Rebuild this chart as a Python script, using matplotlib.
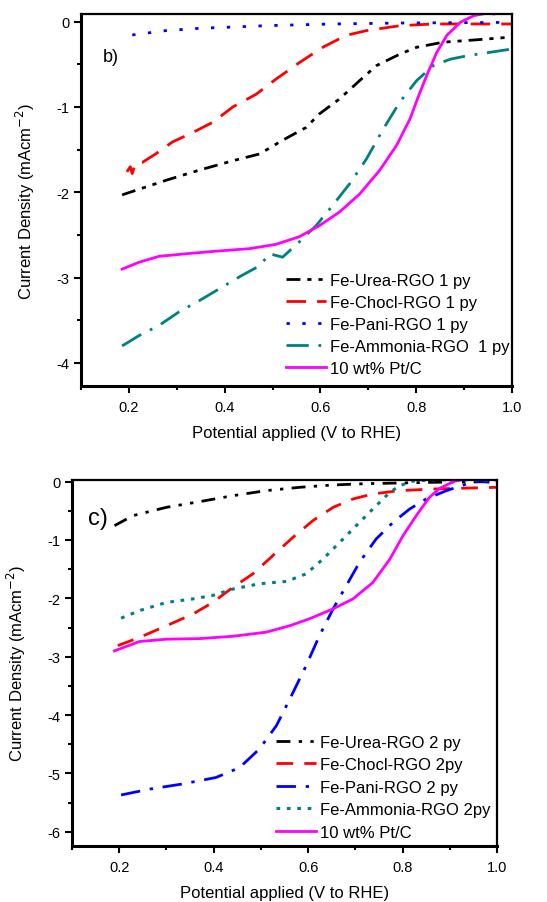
import numpy as np
import matplotlib
matplotlib.use('Agg')
import matplotlib.pyplot as plt
from matplotlib.ticker import MultipleLocator

plt.rcParams['font.family'] = ['Liberation Sans', 'DejaVu Sans']

# ---------------------------
# Panel b) data (1 py)
# ---------------------------
b_urea_x = [0.186, 0.277, 0.347, 0.417, 0.473, 0.521, 0.570, 0.598, 0.640, 0.682, 0.717, 0.766, 0.801, 0.857, 0.920, 1.0]
b_urea_y = [-2.03, -1.86, -1.74, -1.63, -1.55, -1.39, -1.24, -1.08, -0.905, -0.69, -0.515, -0.38, -0.30, -0.24, -0.215, -0.18]

b_chocl_x = [0.196, 0.203, 0.207, 0.214, 0.228, 0.256, 0.291, 0.333, 0.375, 0.417, 0.466, 0.508, 0.556, 0.605, 0.654, 0.696, 0.766, 0.836, 1.0]
b_chocl_y = [-1.76, -1.70, -1.78, -1.66, -1.65, -1.55, -1.41, -1.30, -1.18, -1.00, -0.85, -0.67, -0.48, -0.30, -0.16, -0.105, -0.047, -0.027, -0.027]

b_pani_x = [0.207, 0.277, 0.347, 0.487, 0.626, 0.766, 1.0]
b_pani_y = [-0.156, -0.105, -0.078, -0.047, -0.027, -0.016, -0.008]

b_amm_x = [0.186, 0.221, 0.263, 0.305, 0.347, 0.389, 0.431, 0.473, 0.494, 0.521, 0.556, 0.591, 0.626, 0.661, 0.696, 0.731, 0.766, 0.801, 0.836, 0.871, 0.906, 1.0]
b_amm_y = [-3.80, -3.68, -3.56, -3.40, -3.27, -3.13, -2.99, -2.86, -2.72, -2.76, -2.58, -2.39, -2.15, -1.90, -1.61, -1.26, -0.94, -0.69, -0.515, -0.44, -0.40, -0.32]

b_pt_x = [0.186, 0.221, 0.263, 0.319, 0.382, 0.452, 0.507, 0.556, 0.598, 0.640, 0.682, 0.724, 0.759, 0.787, 0.805, 0.822, 0.843, 0.864, 0.892, 0.920, 0.948, 0.962]
b_pt_y = [-2.90, -2.82, -2.75, -2.72, -2.69, -2.66, -2.61, -2.52, -2.39, -2.23, -2.02, -1.74, -1.45, -1.14, -0.87, -0.63, -0.36, -0.16, -0.008, 0.07, 0.10, 0.09]

# ---------------------------
# Panel c) data (2 py)
# ---------------------------
c_urea_x = [0.190, 0.229, 0.300, 0.370, 0.441, 0.511, 0.582, 0.653, 0.723, 0.794, 0.864, 1.0]
c_urea_y = [-0.754, -0.583, -0.44, -0.343, -0.24, -0.154, -0.097, -0.057, -0.034, -0.023, -0.011, 0.0]

c_chocl_x = [0.197, 0.243, 0.300, 0.356, 0.398, 0.441, 0.483, 0.525, 0.568, 0.610, 0.653, 0.695, 0.737, 0.794, 0.864, 1.0]
c_chocl_y = [-2.81, -2.67, -2.47, -2.27, -2.07, -1.81, -1.58, -1.27, -0.954, -0.669, -0.44, -0.297, -0.211, -0.154, -0.126, -0.097]

c_pani_x = [0.204, 0.264, 0.335, 0.405, 0.455, 0.497, 0.533, 0.561, 0.596, 0.624, 0.653, 0.681, 0.709, 0.744, 0.780, 0.815, 0.850, 0.893, 0.935, 0.963, 0.984]
c_pani_y = [-5.37, -5.27, -5.18, -5.07, -4.90, -4.58, -4.18, -3.73, -3.15, -2.64, -2.18, -1.78, -1.38, -0.983, -0.697, -0.469, -0.297, -0.154, -0.04, 0.011, -0.011]

c_amm_x = [0.204, 0.243, 0.300, 0.356, 0.398, 0.441, 0.497, 0.554, 0.596, 0.631, 0.667, 0.702, 0.737, 0.773, 0.794, 0.822, 0.864, 0.935, 1.0]
c_amm_y = [-2.34, -2.21, -2.07, -2.01, -1.95, -1.84, -1.75, -1.71, -1.58, -1.33, -1.04, -0.754, -0.469, -0.183, -0.069, 0.01, 0.03, 0.03, 0.03]

c_pt_x = [0.190, 0.243, 0.300, 0.370, 0.441, 0.511, 0.561, 0.603, 0.653, 0.695, 0.737, 0.773, 0.801, 0.829, 0.857, 0.879, 0.907, 0.935, 0.970]
c_pt_y = [-2.90, -2.74, -2.70, -2.69, -2.65, -2.58, -2.47, -2.35, -2.18, -2.01, -1.73, -1.33, -0.926, -0.583, -0.269, -0.114, 0.0, 0.046, 0.034]

b_labels = ['Fe-Urea-RGO 1 py', 'Fe-Chocl-RGO 1 py', 'Fe-Pani-RGO 1 py', 'Fe-Ammonia-RGO  1 py', '10 wt% Pt/C']
c_labels = ['Fe-Urea-RGO 2 py', 'Fe-Chocl-RGO 2py', 'Fe-Pani-RGO 2 py', 'Fe-Ammonia-RGO 2py', '10 wt% Pt/C']

BLACK, RED, BLUE, TEAL, MAGENTA = '#000000', '#FF0000', '#0000FF', '#008080', '#FF00FF'

fig = plt.figure(figsize=(5.47, 9.03), dpi=100)
ax_b = fig.add_axes([0.148, 0.5714, 0.788, 0.412])
ax_c = fig.add_axes([0.1316, 0.0623, 0.777, 0.4054])

# panel b
ax_b.plot(b_urea_x, b_urea_y, color=BLACK, lw=2, ls=(0, (5, 2.5, 1.5, 2.5, 1.5, 2.5)), label=b_labels[0])
ax_b.plot(b_chocl_x, b_chocl_y, color=RED, lw=2, ls=(0, (7, 4)), label=b_labels[1])
ax_b.plot(b_pani_x, b_pani_y, color=BLUE, lw=2, ls=(0, (1.2, 4.5)), label=b_labels[2])
ax_b.plot(b_amm_x, b_amm_y, color=TEAL, lw=2, ls=(0, (8, 3.5, 1, 3.5)), label=b_labels[3])
ax_b.plot(b_pt_x, b_pt_y, color=MAGENTA, lw=2, label=b_labels[4])

# panel c
ax_c.plot(c_urea_x, c_urea_y, color=BLACK, lw=2, ls=(0, (5, 3, 1.2, 3, 1.2, 3)), label=c_labels[0])
ax_c.plot(c_chocl_x, c_chocl_y, color=RED, lw=2, ls=(0, (6, 4)), label=c_labels[1])
ax_c.plot(c_pani_x, c_pani_y, color=BLUE, lw=2, ls=(0, (7, 3.5, 1.2, 3.5)), label=c_labels[2])
ax_c.plot(c_amm_x, c_amm_y, color=TEAL, lw=2.2, ls=(0, (1.2, 2.2)), label=c_labels[3])
ax_c.plot(c_pt_x, c_pt_y, color=MAGENTA, lw=2, label=c_labels[4])

for ax, ylo, yhi in [(ax_b, -4.27, 0.09), (ax_c, -6.24, 0.034)]:
    ax.set_xlim(0.1, 1.0)
    ax.set_ylim(ylo, yhi)
    ax.xaxis.set_major_locator(MultipleLocator(0.2))
    ax.xaxis.set_minor_locator(MultipleLocator(0.1))
    ax.yaxis.set_major_locator(MultipleLocator(1))
    ax.yaxis.set_minor_locator(MultipleLocator(0.5))
    ax.set_xticks([0.2, 0.4, 0.6, 0.8, 1.0])
    ax.set_xticklabels(['0.2', '0.4', '0.6', '0.8', '1.0'])
    ax.tick_params(which='major', direction='out', length=5, width=1.5, labelsize=10.5, pad=3)
    ax.tick_params(which='minor', direction='out', length=3, width=1.5)
    ax.tick_params(axis='x', which='both', pad=5)
    for s in ['left', 'bottom']:
        ax.spines[s].set_linewidth(2.2)
    for s in ['top', 'right']:
        ax.spines[s].set_linewidth(1.6)
    ax.set_xlabel('Potential applied (V to RHE)', fontsize=12, labelpad=8)
    ax.set_ylabel('Current Density (mAcm$^{-2}$)', fontsize=12, labelpad=14)

ax_b.set_yticks([0, -1, -2, -3, -4])
ax_b.set_yticklabels(['0', '-1', '-2', '-3', '-4'])
ax_c.set_yticks([0, -1, -2, -3, -4, -5, -6])
ax_c.set_yticklabels(['0', '-1', '-2', '-3', '-4', '-5', '-6'])

ax_b.text(0.051, 0.874, 'b)', transform=ax_b.transAxes, fontsize=13)
ax_c.text(0.038, 0.879, 'c)', transform=ax_c.transAxes, fontsize=17)

ax_b.legend(loc='upper left', bbox_to_anchor=(0.46, 0.322), frameon=False, fontsize=12,
            handlelength=2.4, handletextpad=0.25, labelspacing=0.42, borderaxespad=0)
ax_c.legend(loc='upper left', bbox_to_anchor=(0.465, 0.322), frameon=False, fontsize=12,
            handlelength=2.4, handletextpad=0.25, labelspacing=0.45, borderaxespad=0)

fig.savefig('out.png', dpi=100)
